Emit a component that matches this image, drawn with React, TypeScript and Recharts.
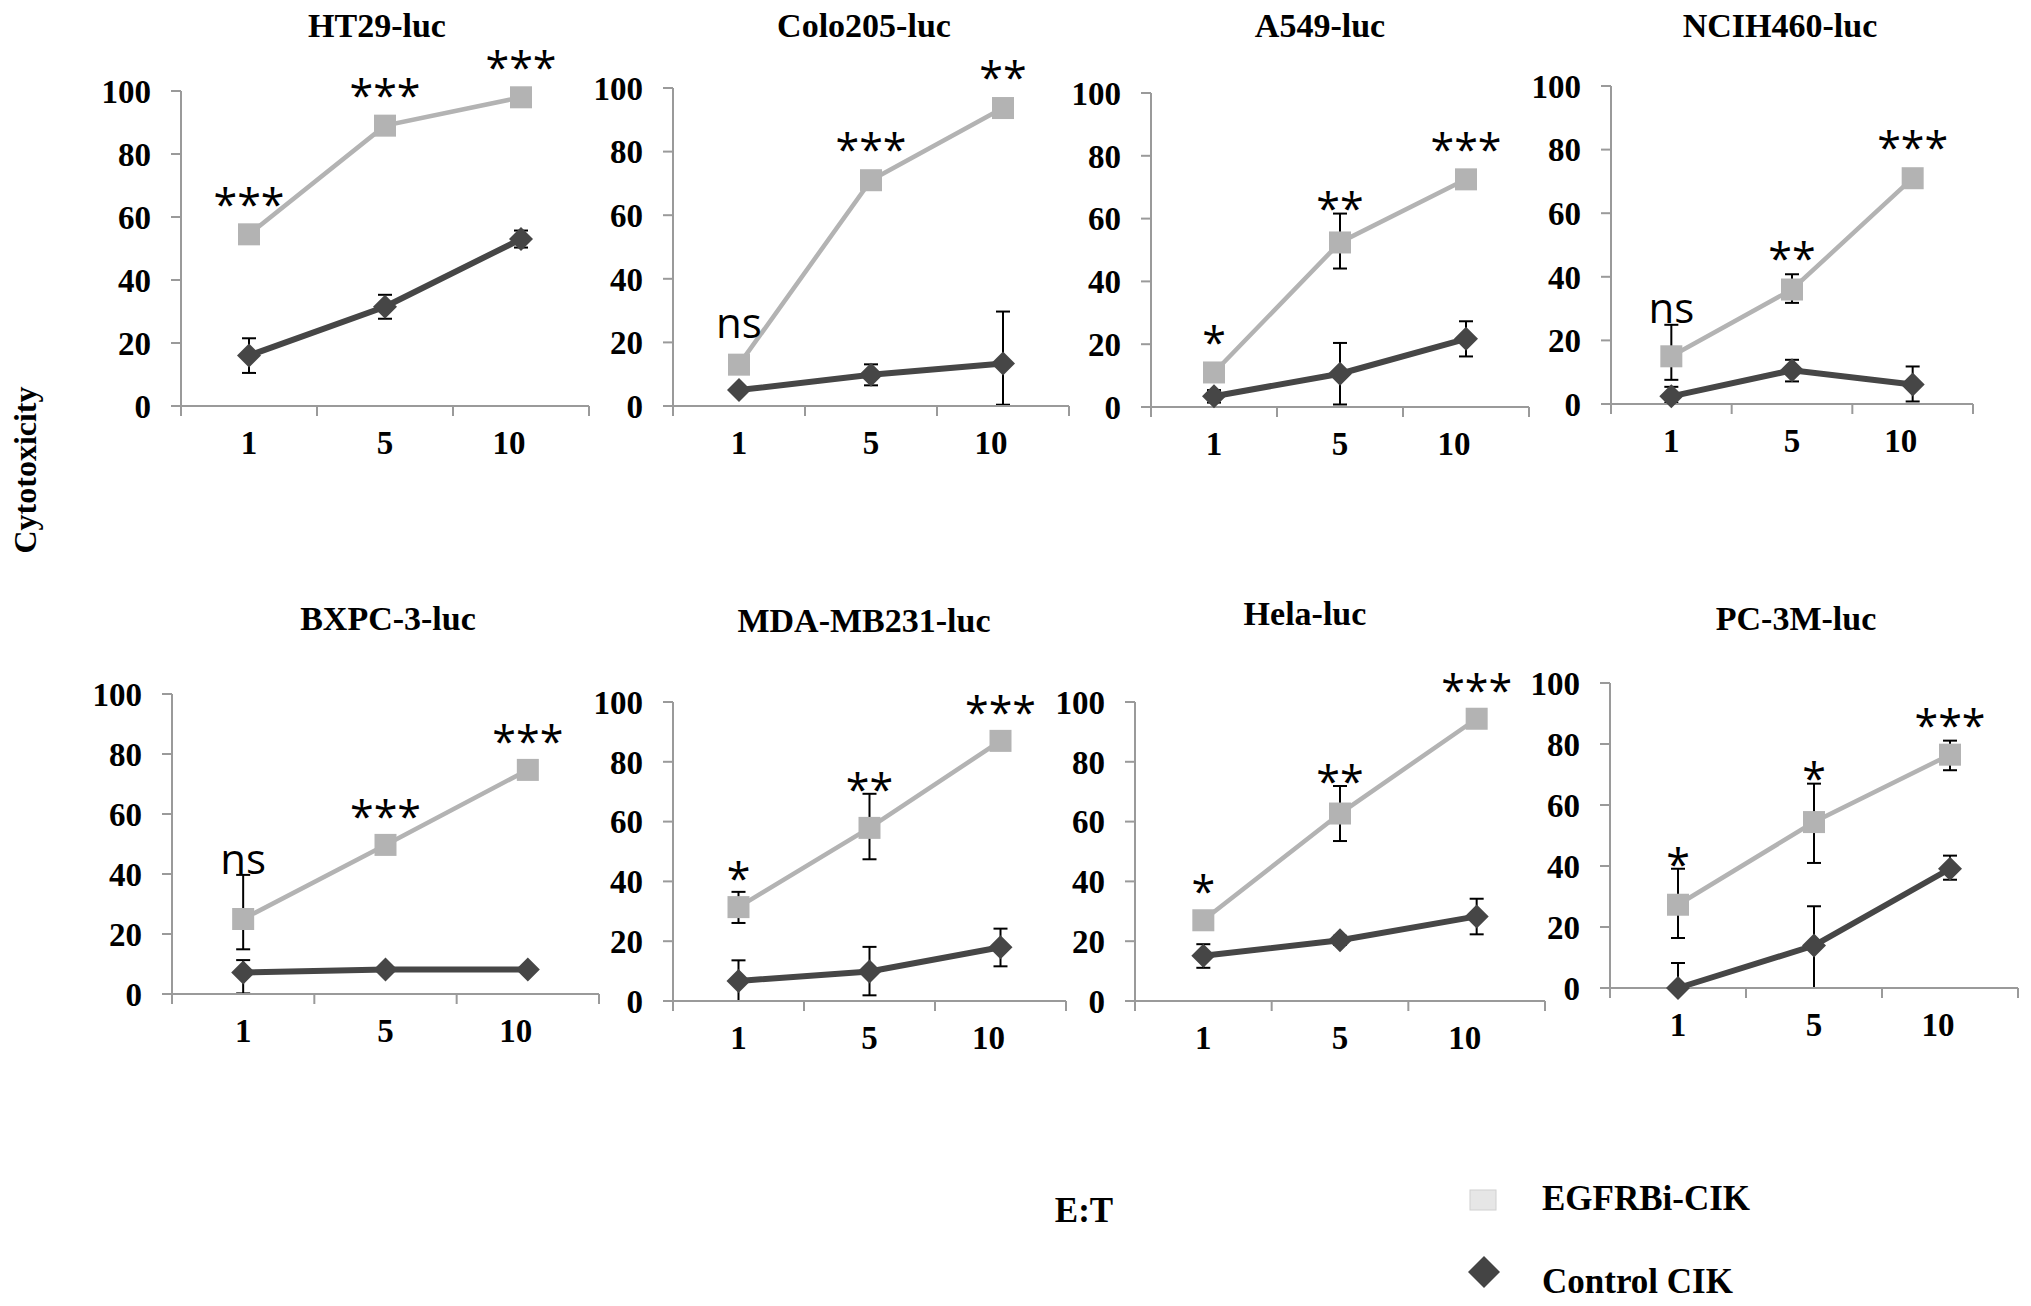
import React from "react";
import { LineChart, Line, XAxis, YAxis, ErrorBar, LabelList } from "recharts";

const categories = ["1", "5", "10"];
const cellLines = ["HT29-luc", "Colo205-luc", "A549-luc", "NCIH460-luc", "BXPC-3-luc", "MDA-MB231-luc", "Hela-luc", "PC-3M-luc"];
const yTicks = [0, 20, 40, 60, 80, 100];

// EGFRBi-CIK means and [low, high] error per E:T ratio
const egfrMeans = [
  [54.5, 89, 98],
  [13, 71, 93.7],
  [11, 52.4, 72.5],
  [15, 36, 71],
  [25, 49.7, 74.7],
  [31.4, 57.9, 87],
  [27, 62.7, 94.4],
  [27.3, 54.4, 76.5],
];
const egfrErrors = [
  [[0, 0], [0, 0], [0, 0]],
  [[0, 0], [0, 0], [0, 0]],
  [[0, 0], [8.3, 9.2], [0, 0]],
  [[7.4, 9.9], [4.2, 4.8], [0, 0]],
  [[10.1, 14.7], [0, 0], [0, 0]],
  [[5.3, 5.1], [10.5, 11.4], [0, 0]],
  [[0, 0], [9.2, 9.2], [0, 0]],
  [[10.9, 11.8], [13.4, 12.6], [5.1, 4.6]],
];
const controlMeans = [
  [16, 31.5, 53],
  [5, 9.8, 13.4],
  [3.4, 10.6, 21.7],
  [2.4, 10.6, 6.1],
  [7.2, 8.2, 8.2],
  [6.7, 9.9, 18],
  [15.1, 20.3, 28.3],
  [0, 13.9, 39.1],
];
const controlErrors = [
  [[5.5, 5.5], [3.8, 3.8], [2.7, 2.7]],
  [[1, 1], [3.3, 3.3], [13, 16.3]],
  [[2, 2], [9.8, 9.8], [5.6, 5.6]],
  [[2, 3], [3.5, 3.3], [5.3, 5.7]],
  [[7, 4.1], [0, 0], [0, 0]],
  [[6.7, 6.9], [8, 8.2], [6.4, 6.2]],
  [[4, 3.9], [1.5, 1.5], [6, 5.9]],
  [[0, 8.2], [13.9, 12.9], [3.6, 4.3]],
];
const significance = [
  ["***", "***", "***"],
  ["ns", "***", "**"],
  ["*", "**", "***"],
  ["ns", "**", "***"],
  ["ns", "***", "***"],
  ["*", "**", "***"],
  ["*", "**", "***"],
  ["*", "*", "***"],
];

// plot-area frames on the page
const panels = [
  { left: 181, right: 589, top: 91, bottom: 406, tx: 377, ty: 25 },
  { left: 673, right: 1069, top: 88, bottom: 406, tx: 864, ty: 25 },
  { left: 1151, right: 1529, top: 93, bottom: 407, tx: 1320, ty: 25 },
  { left: 1611, right: 1973, top: 86, bottom: 404, tx: 1780, ty: 25 },
  { left: 172, right: 599, top: 694, bottom: 994, tx: 388, ty: 618 },
  { left: 673, right: 1066, top: 702, bottom: 1001, tx: 864, ty: 620 },
  { left: 1135, right: 1545, top: 702, bottom: 1001, tx: 1305, ty: 613 },
  { left: 1610, right: 2018, top: 683, bottom: 988, tx: 1796, ty: 618 },
];

const SERIF = "'Liberation Serif', 'Times New Roman', serif";
const SANS = "'Open Sans', 'Noto Sans', sans-serif";
const AXIS = "#9a9a9a";
const LIGHT = "#b3b3b3";
const DARK = "#464646";
const ML = 110;
const MT = 90;
const MR = 70;
const MB = 70;

function XTick(props: any) {
  const { x, y, payload, index, bw } = props;
  const axisY = y - 25;
  const last = index === categories.length - 1;
  return (
    <g>
      <line x1={x - bw / 2} x2={x - bw / 2} y1={axisY} y2={axisY + 10} stroke={AXIS} strokeWidth={2} />
      {last && <line x1={x + bw / 2} x2={x + bw / 2} y1={axisY} y2={axisY + 10} stroke={AXIS} strokeWidth={2} />}
      <text x={x + (last ? -12 : 0)} y={y} dy="0.71em" textAnchor="middle" fill="#000" fontSize={33} fontWeight={700} fontFamily={SERIF}>
        {payload.value}
      </text>
    </g>
  );
}

function Panel({ idx }: { idx: number }) {
  const p = panels[idx];
  const w = p.right - p.left;
  const h = p.bottom - p.top;
  const bw = w / categories.length;
  const unit = h / 100;
  const data = categories.map((c, i) => ({
    et: c,
    egfr: egfrMeans[idx][i],
    egfrErr: egfrErrors[idx][i],
    control: controlMeans[idx][i],
    controlErr: controlErrors[idx][i],
    sig: significance[idx][i],
  }));

  const square = (d: any) => (
    <rect key={`sq-${d.index}`} x={d.cx - 11} y={d.cy - 11} width={22} height={22} fill={LIGHT} />
  );
  const diamond = (d: any) => (
    <path
      key={`dm-${d.index}`}
      d={`M${d.cx},${d.cy - 12} L${d.cx + 12},${d.cy} L${d.cx},${d.cy + 12} L${d.cx - 12},${d.cy} Z`}
      fill={DARK}
    />
  );
  const sigLabel = (lp: any) => {
    const i = lp.index;
    const off = Math.max(12, egfrErrors[idx][i][1] + 4) * unit;
    const cy = lp.y - off;
    const isNs = lp.value === "ns";
    return (
      <text
        key={`sig-${i}`}
        x={lp.x}
        y={cy + (isNs ? 11 : 23)}
        textAnchor="middle"
        fill="#000"
        fontSize={isNs ? 42 : 43}
        fontFamily={SANS}
      >
        {lp.value}
      </text>
    );
  };

  return (
    <div style={{ position: "absolute", left: p.left - ML, top: p.top - MT }}>
      <LineChart
        width={w + ML + MR}
        height={h + MT + MB}
        data={data}
        margin={{ top: MT, right: MR, bottom: 0, left: 0 }}
        style={{ overflow: "visible" }}
      >
        <XAxis
          dataKey="et"
          scale="band"
          height={MB}
          interval={0}
          axisLine={{ stroke: AXIS, strokeWidth: 2 }}
          tickLine={false}
          tickSize={0}
          tickMargin={25}
          tick={(tp: any) => <XTick {...tp} bw={bw} />}
        />
        <YAxis
          width={ML}
          type="number"
          domain={[0, 100]}
          ticks={yTicks}
          interval={0}
          axisLine={{ stroke: AXIS, strokeWidth: 2 }}
          tickLine={{ stroke: AXIS, strokeWidth: 2 }}
          tickSize={10}
          tickMargin={20}
          tick={{ fill: "#000", fontSize: 33, fontWeight: 700, fontFamily: SERIF }}
        />
        <Line dataKey="control" stroke={DARK} strokeWidth={6} dot={diamond} activeDot={false} isAnimationActive={false}>
          <ErrorBar dataKey="controlErr" direction="y" width={7} strokeWidth={2} stroke="#000" />
        </Line>
        <Line dataKey="egfr" stroke={LIGHT} strokeWidth={4.5} dot={square} activeDot={false} isAnimationActive={false}>
          <ErrorBar dataKey="egfrErr" direction="y" width={7} strokeWidth={2} stroke="#000" />
          <LabelList dataKey="sig" content={sigLabel} />
        </Line>
      </LineChart>
    </div>
  );
}

export default function App() {
  return (
    <div style={{ position: "absolute", left: 0, top: 0, width: 2031, height: 1306, background: "#fff", overflow: "hidden" }}>
      <svg width={2031} height={1306} style={{ position: "absolute", left: 0, top: 0 }}>
        {panels.map((p, i) => (
          <text key={cellLines[i]} x={p.tx} y={p.ty + 12} textAnchor="middle" fontSize={34} fontWeight={700} fontFamily={SERIF} fill="#000">
            {cellLines[i]}
          </text>
        ))}
        <text transform="translate(36,470) rotate(-90)" textAnchor="middle" fontSize={32} fontWeight={700} fontFamily={SERIF} fill="#000">
          Cytotoxicity
        </text>
        <text x={1084} y={1222} textAnchor="middle" fontSize={35} fontWeight={700} fontFamily={SERIF} fill="#000">
          E:T
        </text>
        <rect x={1470} y={1190} width={26} height={20} fill="#e6e6e6" stroke="#d0d0d0" strokeWidth={1} />
        <text x={1542} y={1210} fontSize={35} fontWeight={700} fontFamily={SERIF} fill="#000">
          EGFRBi-CIK
        </text>
        <path d="M1484,1256 L1500,1272 L1484,1288 L1468,1272 Z" fill="#444" />
        <text x={1542} y={1293} fontSize={35} fontWeight={700} fontFamily={SERIF} fill="#000">
          Control CIK
        </text>
      </svg>
      {panels.map((_, i) => (
        <Panel key={cellLines[i]} idx={i} />
      ))}
    </div>
  );
}
